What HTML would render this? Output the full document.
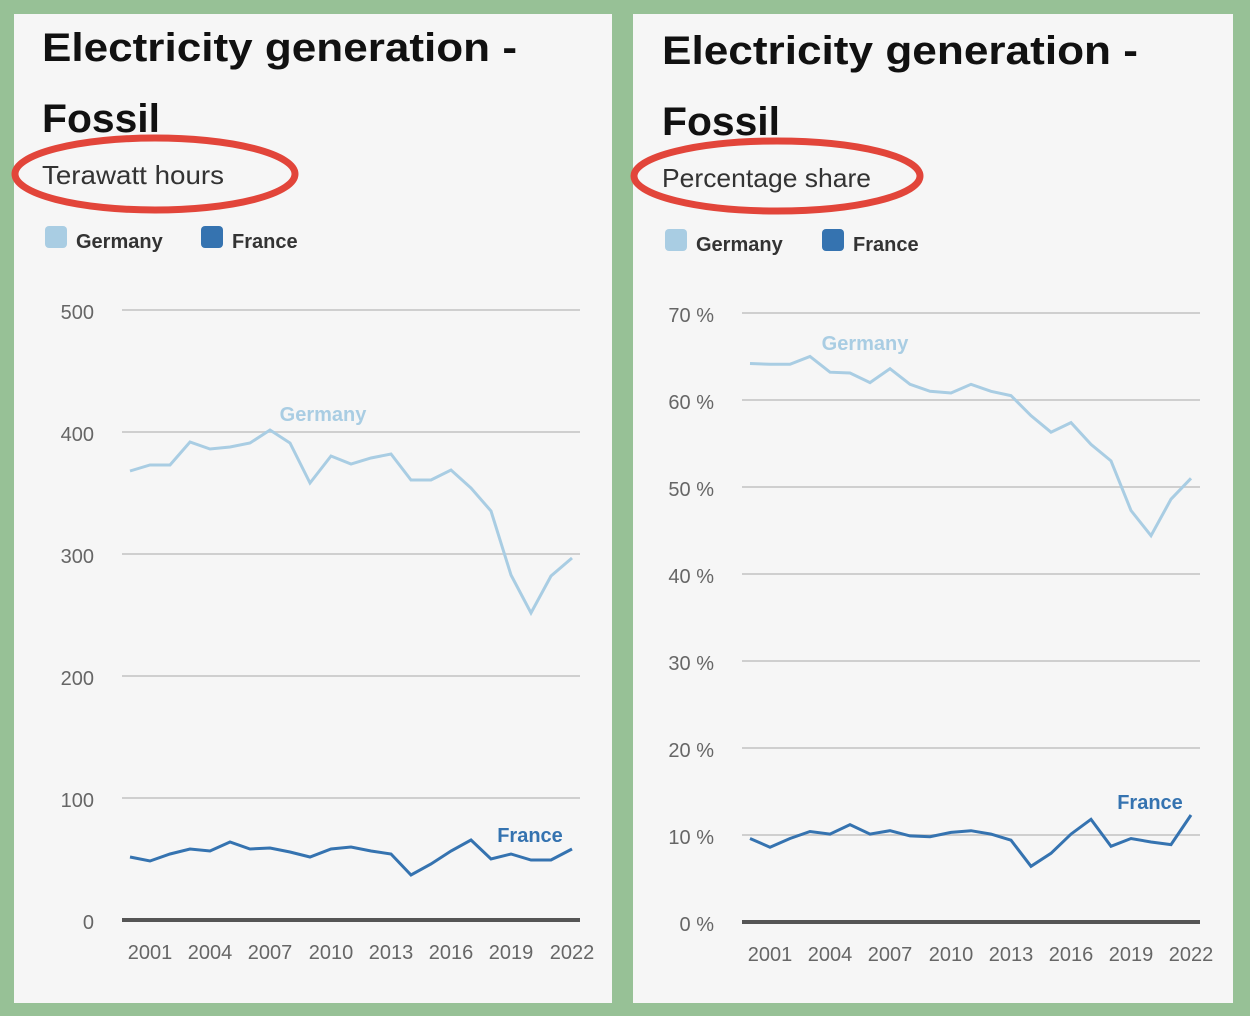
<!DOCTYPE html>
<html><head><meta charset="utf-8"><style>
html,body{margin:0;padding:0;width:1250px;height:1016px;overflow:hidden;background:#97c196}
svg{display:block}
text{font-family:"Liberation Sans",sans-serif}
</style></head><body>
<svg width="1250" height="1016" viewBox="0 0 1250 1016">
<rect width="1250" height="1016" fill="#97c196"/>
<rect x="14" y="14" width="598" height="989" fill="#f6f6f6"/>
<rect x="633" y="14" width="600" height="989" fill="#f6f6f6"/>

<!-- LEFT -->
<g>
<text x="42" y="61" font-size="40" font-weight="bold" fill="#111" textLength="475" lengthAdjust="spacingAndGlyphs">Electricity generation -</text>
<text x="42" y="132" font-size="40" font-weight="bold" fill="#111" textLength="118" lengthAdjust="spacingAndGlyphs">Fossil</text>
<text x="42" y="184" font-size="26" fill="#333" textLength="182" lengthAdjust="spacingAndGlyphs">Terawatt hours</text>
<ellipse cx="155" cy="174" rx="140" ry="36" fill="none" stroke="#e2453a" stroke-width="7"/>
<rect x="45" y="226" width="22" height="22" rx="4" fill="#a9cde3"/>
<text x="76" y="248" font-size="20" font-weight="bold" fill="#333">Germany</text>
<rect x="201" y="226" width="22" height="22" rx="4" fill="#3573b0"/>
<text x="232" y="248" font-size="20" font-weight="bold" fill="#333">France</text>
<g stroke="#cfcfcf" stroke-width="2">
<line x1="122" y1="310" x2="580" y2="310"/><line x1="122" y1="432" x2="580" y2="432"/><line x1="122" y1="554" x2="580" y2="554"/><line x1="122" y1="676" x2="580" y2="676"/><line x1="122" y1="798" x2="580" y2="798"/>
</g>
<line x1="122" y1="920" x2="580" y2="920" stroke="#555" stroke-width="4"/>
<g font-size="20" fill="#666" text-anchor="end">
<text x="94" y="319">500</text><text x="94" y="441">400</text><text x="94" y="563">300</text><text x="94" y="685">200</text><text x="94" y="807">100</text><text x="94" y="929">0</text>
</g>
<g font-size="20" fill="#666" text-anchor="middle">
<text x="150" y="959">2001</text><text x="210" y="959">2004</text><text x="270" y="959">2007</text><text x="331" y="959">2010</text><text x="391" y="959">2013</text><text x="451" y="959">2016</text><text x="511" y="959">2019</text><text x="572" y="959">2022</text>
</g>
<polyline fill="none" stroke="#a9cde3" stroke-width="3" points="130,471 150,465 170,465 190,442 210,449 230,447 250,443 270,430 290,443 310,483 331,456 351,464 371,458 391,454 411,480 431,480 451,470 471,488 491,511 511,575 531,613 551,576 572,558"/>
<polyline fill="none" stroke="#3573b0" stroke-width="3" points="130,857 150,861 170,854 190,849 210,851 230,842 250,849 270,848 290,852 310,857 331,849 351,847 371,851 391,854 411,875 431,864 451,851 471,840 491,859 511,854 531,860 551,860 572,849"/>
<text x="323" y="421" font-size="20" font-weight="bold" fill="#a9cde3" text-anchor="middle">Germany</text>
<text x="530" y="842" font-size="20" font-weight="bold" fill="#3573b0" text-anchor="middle">France</text>
</g>

<!-- RIGHT -->
<g>
<text x="662" y="64" font-size="40" font-weight="bold" fill="#111" textLength="476" lengthAdjust="spacingAndGlyphs">Electricity generation -</text>
<text x="662" y="135" font-size="40" font-weight="bold" fill="#111" textLength="118" lengthAdjust="spacingAndGlyphs">Fossil</text>
<text x="662" y="187" font-size="26" fill="#333" textLength="209" lengthAdjust="spacingAndGlyphs">Percentage share</text>
<ellipse cx="777" cy="176" rx="143" ry="35" fill="none" stroke="#e2453a" stroke-width="7"/>
<rect x="665" y="229" width="22" height="22" rx="4" fill="#a9cde3"/>
<text x="696" y="251" font-size="20" font-weight="bold" fill="#333">Germany</text>
<rect x="822" y="229" width="22" height="22" rx="4" fill="#3573b0"/>
<text x="853" y="251" font-size="20" font-weight="bold" fill="#333">France</text>
<g stroke="#cfcfcf" stroke-width="2">
<line x1="742" y1="313" x2="1200" y2="313"/><line x1="742" y1="400" x2="1200" y2="400"/><line x1="742" y1="487" x2="1200" y2="487"/><line x1="742" y1="574" x2="1200" y2="574"/><line x1="742" y1="661" x2="1200" y2="661"/><line x1="742" y1="748" x2="1200" y2="748"/><line x1="742" y1="835" x2="1200" y2="835"/>
</g>
<line x1="742" y1="922" x2="1200" y2="922" stroke="#555" stroke-width="4"/>
<g font-size="20" fill="#666" text-anchor="end">
<text x="714" y="322">70 %</text><text x="714" y="409">60 %</text><text x="714" y="496">50 %</text><text x="714" y="583">40 %</text><text x="714" y="670">30 %</text><text x="714" y="757">20 %</text><text x="714" y="844">10 %</text><text x="714" y="931">0 %</text>
</g>
<g font-size="20" fill="#666" text-anchor="middle">
<text x="770" y="961">2001</text><text x="830" y="961">2004</text><text x="890" y="961">2007</text><text x="951" y="961">2010</text><text x="1011" y="961">2013</text><text x="1071" y="961">2016</text><text x="1131" y="961">2019</text><text x="1191" y="961">2022</text>
</g>
<polyline fill="none" stroke="#a9cde3" stroke-width="3" points="750,363.5 770,364.3 790,364.3 810,356.5 830,372.2 850,373 870,382.6 890,368.7 910,384.3 930,391.3 951,393 971,384.3 991,391.3 1011,395.6 1031,415.7 1051,432.2 1071,422.6 1091,444.4 1111,460.9 1131,510.5 1151,535.7 1171,499.2 1191,478.3"/>
<polyline fill="none" stroke="#3573b0" stroke-width="3" points="750,838.5 770,847.2 790,838.5 810,831.5 830,834.1 850,824.6 870,834.1 890,830.7 910,835.9 930,836.7 951,832.4 971,830.7 991,834.1 1011,840.2 1031,866.3 1051,853.3 1071,834.1 1091,819.3 1111,846.3 1131,838.5 1151,842 1171,844.6 1191,815"/>
<text x="865" y="350" font-size="20" font-weight="bold" fill="#a9cde3" text-anchor="middle">Germany</text>
<text x="1150" y="809" font-size="20" font-weight="bold" fill="#3573b0" text-anchor="middle">France</text>
</g>
</svg>
</body></html>
